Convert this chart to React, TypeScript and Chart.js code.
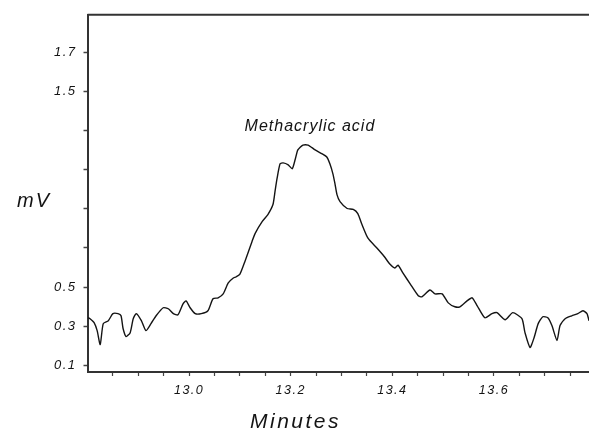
import { useEffect, useRef } from "react";
import { Chart, registerables } from "chart.js";

Chart.register(...registerables);

// Retention time (minutes) of each sampled detector reading
const retentionMinutes = [
  12.801, 12.805, 12.813, 12.819, 12.825, 12.831, 12.841, 12.85, 12.86, 12.866,
  12.87, 12.876, 12.884, 12.89, 12.896, 12.906, 12.915, 12.925, 12.935, 12.949,
  12.959, 12.969, 12.978, 12.988, 12.994, 13.002, 13.012, 13.024, 13.037, 13.047,
  13.057, 13.067, 13.077, 13.087, 13.092, 13.1, 13.11, 13.124, 13.13, 13.144,
  13.155, 13.165, 13.169, 13.173, 13.179, 13.185, 13.195, 13.203, 13.209, 13.214,
  13.224, 13.234, 13.248, 13.262, 13.271, 13.277, 13.283, 13.287, 13.291, 13.297,
  13.311, 13.323, 13.332, 13.34, 13.352, 13.37, 13.384, 13.395, 13.405, 13.411,
  13.421, 13.435, 13.451, 13.458, 13.474, 13.484, 13.498, 13.51, 13.523, 13.533,
  13.547, 13.557, 13.567, 13.582, 13.596, 13.606, 13.622, 13.637, 13.655, 13.661,
  13.671, 13.679, 13.687, 13.696, 13.706, 13.714, 13.724, 13.73, 13.74, 13.753,
  13.765, 13.775, 13.783, 13.787,
];

// Detector signal (mV) at each retention time
const signalMv = [
  0.343, 0.338, 0.318, 0.277, 0.206, 0.313, 0.328, 0.364, 0.364, 0.353,
  0.288, 0.247, 0.267, 0.338, 0.364, 0.328, 0.277, 0.313, 0.353, 0.394,
  0.389, 0.364, 0.358, 0.414, 0.429, 0.394, 0.364, 0.364, 0.379, 0.44,
  0.445, 0.465, 0.521, 0.546, 0.551, 0.566, 0.632, 0.734, 0.774, 0.835,
  0.87, 0.921, 0.987, 1.053, 1.129, 1.134, 1.124, 1.104, 1.154, 1.2,
  1.225, 1.225, 1.2, 1.18, 1.164, 1.129, 1.078, 1.028, 0.972, 0.936,
  0.901, 0.896, 0.875, 0.82, 0.749, 0.698, 0.656, 0.617, 0.597, 0.612,
  0.571, 0.516, 0.455, 0.45, 0.485, 0.465, 0.465, 0.419, 0.399, 0.399,
  0.429, 0.445, 0.404, 0.343, 0.364, 0.369, 0.333, 0.369, 0.338, 0.267,
  0.191, 0.242, 0.313, 0.348, 0.343, 0.303, 0.227, 0.303, 0.338, 0.353,
  0.364, 0.379, 0.364, 0.328,
];

const xTickValues = [
  12.85, 12.9, 12.95, 13.0, 13.05, 13.1, 13.15, 13.2, 13.25, 13.3,
  13.35, 13.4, 13.45, 13.5, 13.55, 13.6, 13.65, 13.7, 13.75,
];
const xTickLabels = ["13.0", "13.2", "13.4", "13.6"];

const yTickValues = [0.1, 0.3, 0.5, 0.7, 0.9, 1.1, 1.3, 1.5, 1.7];
const yTickLabels = ["0.1", "0.3", "0.5", "1.5", "1.7"];

const peakName = "Methacrylic acid";
const xTitle = "Minutes";
const yTitle = "mV";

const FONT = "'Liberation Sans', Arial, sans-serif";
const INK = "#141414";

const labelFor = (labels: string[]) => (value: number | string) => {
  const v = Number(value);
  const hit = labels.find((l) => Math.abs(parseFloat(l) - v) < 1e-6);
  return hit ?? "";
};

// Frame top edge, axis captions and the peak annotation
const chromatogramDecor = {
  id: "chromatogramDecor",
  beforeDraw(chart: any) {
    chart.ctx.letterSpacing = "1.5px";
  },
  afterDraw(chart: any) {
    const { ctx, chartArea, scales, width, height } = chart;
    ctx.save();
    ctx.letterSpacing = "0px";
    ctx.strokeStyle = "#333";
    ctx.lineWidth = 2;
    ctx.beginPath();
    ctx.moveTo(chartArea.left, chartArea.top);
    ctx.lineTo(chartArea.right, chartArea.top);
    ctx.stroke();

    ctx.fillStyle = INK;
    ctx.textBaseline = "middle";
    ctx.textAlign = "center";

    ctx.font = `italic 20px ${FONT}`;
    ctx.letterSpacing = "2px";
    ctx.fillText(yTitle, 34, (chartArea.top + chartArea.bottom) / 2 + 8);

    ctx.font = `italic 21px ${FONT}`;
    ctx.letterSpacing = "2.5px";
    ctx.fillText(xTitle, width / 2 + 1, height - 16);

    // label sits just above the peak apex
    let apex = 0;
    signalMv.forEach((v, i) => {
      if (v > signalMv[apex]) apex = i;
    });
    const px = scales.x.getPixelForValue(retentionMinutes[apex]);
    const py = scales.y.getPixelForValue(signalMv[apex]);
    ctx.font = `italic 16px ${FONT}`;
    ctx.letterSpacing = "1px";
    ctx.fillText(peakName, px + 7, py - 18);
    ctx.restore();
    ctx.letterSpacing = "1.5px";
  },
};

export default function App() {
  const canvasRef = useRef<HTMLCanvasElement | null>(null);

  useEffect(() => {
    const canvas = canvasRef.current;
    if (!canvas) return;
    const chart = new Chart(canvas, {
      type: "line",
      data: {
        datasets: [
          {
            label: yTitle,
            data: retentionMinutes.map((t, i) => ({ x: t, y: signalMv[i] })),
            borderColor: INK,
            borderWidth: 1.4,
            pointRadius: 0,
            tension: 0.2,
            fill: false,
          },
        ],
      },
      options: {
        responsive: false,
        animation: false,
        events: [],
        layout: { padding: { top: 12, right: 0, left: 0, bottom: 0 } },
        plugins: {
          legend: { display: false },
          tooltip: { enabled: false },
        },
        scales: {
          x: {
            type: "linear",
            min: 12.8,
            max: 13.787,
            afterBuildTicks: (s: any) => {
              s.ticks = xTickValues.map((value) => ({ value }));
            },
            afterFit: (s: any) => {
              s.height = 66;
            },
            ticks: {
              autoSkip: false,
              maxRotation: 0,
              padding: 7,
              color: INK,
              font: { family: FONT, size: 12.5, style: "italic" },
              callback: labelFor(xTickLabels),
            },
            grid: {
              drawOnChartArea: false,
              tickLength: 4,
              tickColor: "#444",
              tickWidth: 1.2,
            },
            border: { color: "#333", width: 2 },
          },
          y: {
            type: "linear",
            min: 0.066,
            max: 1.89,
            afterBuildTicks: (s: any) => {
              s.ticks = yTickValues.map((value) => ({ value }));
            },
            afterFit: (s: any) => {
              s.width = 87.5;
            },
            ticks: {
              autoSkip: false,
              padding: 7,
              color: INK,
              font: { family: FONT, size: 13, style: "italic" },
              callback: labelFor(yTickLabels),
            },
            grid: {
              drawOnChartArea: false,
              tickLength: 4,
              tickColor: "#444",
              tickWidth: 1.5,
            },
            border: { color: "#333", width: 2 },
          },
        },
      },
      plugins: [chromatogramDecor],
    });
    return () => chart.destroy();
  }, []);

  return (
    <div
      style={{
        position: "fixed",
        left: 0,
        top: 0,
        width: 589,
        height: 438,
        background: "#fff",
      }}
    >
      <canvas ref={canvasRef} width={589} height={438} style={{ display: "block" }} />
    </div>
  );
}
